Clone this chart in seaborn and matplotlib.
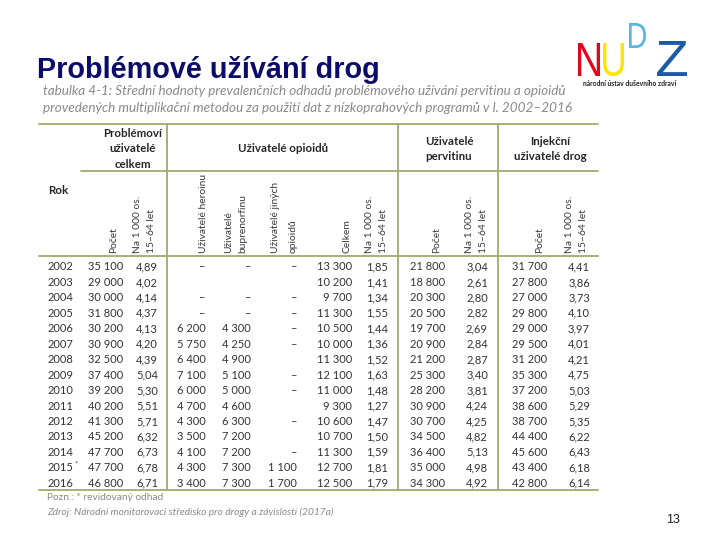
import matplotlib
matplotlib.use("Agg")
import matplotlib.pyplot as plt
import seaborn as sns
from matplotlib.textpath import TextPath
from matplotlib.patches import PathPatch
from matplotlib.font_manager import FontProperties
from matplotlib.transforms import Affine2D

# table data (tabulka 4-1)
years = ["2002", "2003", "2004", "2005", "2006", "2007", "2008", "2009",
         "2010", "2011", "2012", "2013", "2014", "2015*", "2016"]
celkem_pocet = [35100, 29000, 30000, 31800, 30200, 30900, 32500, 37400,
                39200, 40200, 41300, 45200, 47700, 47700, 46800]
celkem_na1000 = [4.89, 4.02, 4.14, 4.37, 4.13, 4.20, 4.39, 5.04,
                 5.30, 5.51, 5.71, 6.32, 6.73, 6.78, 6.71]
# None = "–", "" = empty cell
heroin = [None, "", None, None, 6200, 5750, 6400, 7100,
          6000, 4700, 4300, 3500, 4100, 4300, 3400]
buprenorfin = [None, "", None, None, 4300, 4250, 4900, 5100,
               5000, 4600, 6300, 7200, 7200, 7300, 7300]
jine_opioidy = [None, "", None, None, None, None, "", None,
                None, "", None, "", None, 1100, 1700]
opioidy_celkem = [13300, 10200, 9700, 11300, 10500, 10000, 11300, 12100,
                  11000, 9300, 10600, 10700, 11300, 12700, 12500]
opioidy_na1000 = [1.85, 1.41, 1.34, 1.55, 1.44, 1.36, 1.52, 1.63,
                  1.48, 1.27, 1.47, 1.50, 1.59, 1.81, 1.79]
pervitin_pocet = [21800, 18800, 20300, 20500, 19700, 20900, 21200, 25300,
                  28200, 30900, 30700, 34500, 36400, 35000, 34300]
pervitin_na1000 = [3.04, 2.61, 2.80, 2.82, 2.69, 2.84, 2.87, 3.40,
                   3.81, 4.24, 4.25, 4.82, 5.13, 4.98, 4.92]
injekcni_pocet = [31700, 27800, 27000, 29800, 29000, 29500, 31200, 35300,
                  37200, 38600, 38700, 44400, 45600, 43400, 42800]
injekcni_na1000 = [4.41, 3.86, 3.73, 4.10, 3.97, 4.01, 4.21, 4.75,
                   5.03, 5.29, 5.35, 6.22, 6.43, 6.18, 6.14]

group_headers = ["Problémoví\nuživatelé\ncelkem", "Uživatelé opioidů",
                 "Uživatelé\npervitinu", "Injekční\nuživatelé drog"]
sub_headers = ["Počet", "Na 1 000 os.", "15–64 let", "Uživatelé heroinu",
               "Uživatelé", "buprenorfinu", "Uživatelé jiných", "opioidů",
               "Celkem", "Na 1 000 os.", "15–64 let", "Počet",
               "Na 1 000 os.", "15–64 let", "Počet", "Na 1 000 os.", "15–64 let"]


def fmt_int(v):
    if v is None:
        return "–"
    if v == "":
        return ""
    return f"{v:,}".replace(",", " ")


def fmt_dec(v):
    return f"{v:.2f}".replace(".", ",")


sns.set_theme(style="white")
plt.rcParams["font.family"] = ["Lato", "DejaVu Sans"]

fig = plt.figure(figsize=(7.2, 5.4), dpi=100)
ax = fig.add_axes([0, 0, 1, 1])
ax.set_xlim(0, 720)
ax.set_ylim(540, 0)
ax.axis("off")

# title
ax.text(37, 78, "Problémové užívání drog", fontsize=20.8, fontweight="bold",
        color="#0b0b6b", family=["Liberation Sans", "DejaVu Sans"], va="baseline")

# logo: letters stretched to box (x0, x1, y_top, y_bottom)
logo_fp = FontProperties(family=["Liberation Sans", "DejaVu Sans"])


def logo_letter(ch, x0, x1, ytop, ybot, color):
    tp = TextPath((0, 0), ch, size=10, prop=logo_fp)
    ext = tp.get_extents()
    sx = (x1 - x0) / ext.width
    sy = (ybot - ytop) / ext.height
    tr = Affine2D().translate(-ext.x0, -ext.y0).scale(sx, -sy).translate(x0, ybot)
    ax.add_patch(PathPatch(tr.transform_path(tp), color=color, lw=0))


logo_letter("N", 578, 600, 43, 76, "#e3051b")
logo_letter("U", 603, 624, 43, 76, "#ffe400")
logo_letter("D", 629, 646, 23, 48, "#58b4e6")
logo_letter("Z", 657, 687, 41, 76, "#1b5aa6")
ax.text(630, 83, "národní ústav duševního zdraví", fontsize=4.9, color="#222222",
        ha="center", va="center", fontweight="bold")

# caption
cap_kw = dict(fontsize=9.7, style="italic", color="#8a8a8a", va="center")
ax.text(43, 91, "tabulka 4-1: Střední hodnoty prevalenčních odhadů problémového "
        "užívání pervitinu a opioidů", **cap_kw)
ax.text(43, 108, "provedených multiplikační metodou za použití dat z "
        "nízkoprahových programů v l. 2002–2016", **cap_kw)

# table rules
line_col = "#a3aa6a"
ax.plot([39, 598], [124, 124], color=line_col, lw=1.3)
ax.plot([81, 598], [171, 171], color=line_col, lw=1.3)
ax.plot([39, 598], [256, 256], color=line_col, lw=1.3)
ax.plot([39, 598], [490, 490], color=line_col, lw=1.3)
for xv in [167, 398, 498]:
    ax.plot([xv, xv], [124, 490], color=line_col, lw=1.3)

# headers
hkw = dict(fontsize=8.3, fontweight="bold", color="#262626", ha="center",
           va="center", linespacing=1.45)
ax.text(133, 149, group_headers[0], **hkw)
ax.text(283, 149, group_headers[1], **hkw)
ax.text(449, 149, group_headers[2], **hkw)
ax.text(550, 149, group_headers[3], **hkw)
ax.text(48, 190, "Rok", fontsize=8.3, fontweight="bold", color="#262626",
        ha="left", va="center")

sub_x = [114, 138, 151, 203, 229, 243, 276, 293, 347, 369, 383,
         437, 469, 483, 540, 569, 583]
for xs, lab in zip(sub_x, sub_headers):
    ax.text(xs, 253, lab, rotation=90, fontsize=7.4, color="#3a3a3a",
            ha="center", va="bottom")

# body
row_y0, row_dy = 270.5, 15.45
cols = [
    (celkem_pocet, fmt_int, 123),
    (celkem_na1000, fmt_dec, 158),
    (heroin, fmt_int, 206),
    (buprenorfin, fmt_int, 251),
    (jine_opioidy, fmt_int, 297),
    (opioidy_celkem, fmt_int, 352),
    (opioidy_na1000, fmt_dec, 388),
    (pervitin_pocet, fmt_int, 445),
    (pervitin_na1000, fmt_dec, 488),
    (injekcni_pocet, fmt_int, 547),
    (injekcni_na1000, fmt_dec, 590),
]
bkw = dict(fontsize=8.0, color="#333333", va="baseline")
for i, yr in enumerate(years):
    y = row_y0 + i * row_dy
    ax.text(48, y, yr.rstrip("*"), ha="left", **bkw)
    if yr.endswith("*"):
        ax.text(75, y - 4.5, "*", ha="left", fontsize=5, color="#333333",
                va="baseline")
    for vals, f, xr in cols:
        ax.text(xr, y, f(vals[i]), ha="right", **bkw)

# notes
ax.text(47, 498, "Pozn.: * revidovaný odhad", fontsize=7.3, color="#8a8a8a", va="center")
ax.text(47, 512, "Zdroj: Národní monitorovací středisko pro drogy a závislosti (2017a)",
        fontsize=7.3, style="italic", color="#8a8a8a", va="center")

# slide number
ax.text(673, 520, "13", fontsize=9, color="#222222", ha="center", va="center",
        family=["Liberation Sans", "DejaVu Sans"])

fig.savefig("out.png", dpi=100)
